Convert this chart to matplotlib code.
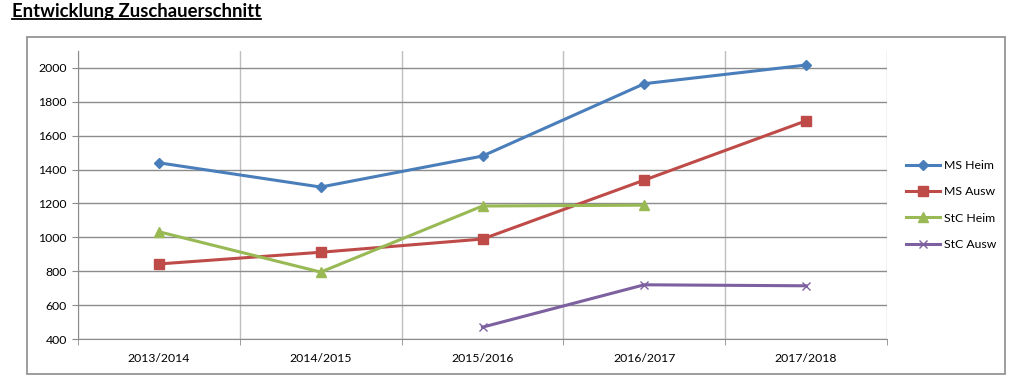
import numpy as np
import matplotlib.pyplot as plt
from matplotlib.patches import Rectangle
from matplotlib.lines import Line2D

seasons = ['2013/2014', '2014/2015', '2015/2016', '2016/2017', '2017/2018']
ms_heim = [1440, 1297, 1480, 1907, 2017]
ms_ausw = [843, 912, 990, 1338, 1688]
stc_heim = [1033, 795, 1185, 1190, np.nan]
stc_ausw = [np.nan, np.nan, 470, 720, 714]

plt.rcParams['font.family'] = ['Lato', 'DejaVu Sans']

fig = plt.figure(figsize=(10.11, 3.91), dpi=100)
W, H = 1011, 391

# outer chart border
fig.patches.append(Rectangle((27 / W, 1 - 374 / H), (1005 - 27) / W, (374 - 37) / H,
                             transform=fig.transFigure, fill=False,
                             edgecolor='#8c8c8c', linewidth=1.2))

ax = fig.add_axes([78 / W, 1 - 339 / H, (887 - 78) / W, (339 - 51) / H])
x = np.arange(len(seasons))

ax.plot(x, ms_heim, color='#4A7EBB', lw=2.2, marker='D', ms=5.5, label='MS Heim')
ax.plot(x, ms_ausw, color='#BE4B48', lw=2.2, marker='s', ms=6.5, label='MS Ausw')
ax.plot(x, stc_heim, color='#98B954', lw=2.2, marker='^', ms=7, label='StC Heim')
ax.plot(x, stc_ausw, color='#7D60A0', lw=2.2, marker='x', ms=6, mew=1, label='StC Ausw')

ax.set_xlim(-0.5, len(seasons) - 0.5)
ax.set_ylim(400, 2100)
ax.set_yticks(range(400, 2001, 200))
ax.set_xticks(x)
ax.set_xticklabels(seasons)
ax.set_xticks(np.arange(-0.5, len(seasons)), minor=True)
ax.tick_params(axis='x', which='major', length=0, pad=10, labelsize=8.8)
ax.tick_params(axis='x', which='minor', length=4, color='#8c8c8c')
ax.tick_params(axis='y', length=4, color='#8c8c8c', labelsize=8.8, pad=4)

ax.grid(axis='y', color='#8c8c8c', lw=1)
ax.grid(axis='x', which='minor', color='#bfbfbf', lw=1)
ax.set_axisbelow(True)
for s in ['top', 'right']:
    ax.spines[s].set_visible(False)
for s in ['left', 'bottom']:
    ax.spines[s].set_color('#8c8c8c')

ax.legend(loc='center left', bbox_to_anchor=(1.01, 0.465), frameon=False,
          fontsize=8.8, handlelength=2.8, labelspacing=1.25, handletextpad=0.3)

t = fig.text(12 / W, 1 - 12 / H, 'Entwicklung Zuschauerschnitt', fontsize=13.3,
             fontweight='bold', va='center', ha='left')
fig.canvas.draw()
bb = t.get_window_extent().transformed(fig.transFigure.inverted())
fig.lines.append(Line2D([bb.x0, bb.x1], [bb.y0 + 0.003, bb.y0 + 0.003],
                        transform=fig.transFigure, color='black', lw=1.3))

fig.savefig('out.png', dpi=100)
